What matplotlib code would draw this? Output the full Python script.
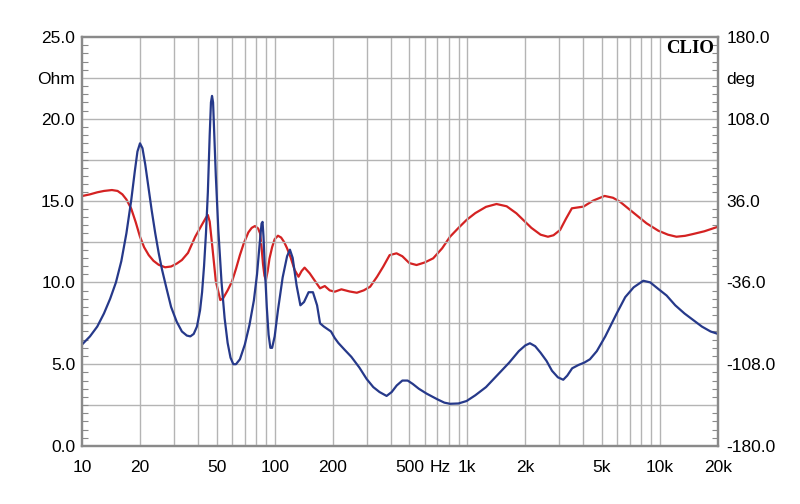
import numpy as np
import matplotlib
matplotlib.use("Agg")
import matplotlib.pyplot as plt
import matplotlib.transforms as mtransforms

# Impedance magnitude (Ohm) vs frequency (Hz)
imp_freq = [10, 11, 12, 13, 14, 15, 16, 17, 18, 18.8, 19.4, 20, 20.6, 21.3, 22, 23, 24, 25, 26,
            27.5, 29, 31, 33, 35, 36.5, 38, 39.5, 41, 42, 43, 44, 45, 46, 46.7, 47.3, 47.9,
            48.6, 49.5, 51, 53, 55, 57, 59, 61, 63, 66, 70, 74, 78, 81, 83.5, 85.5, 86.5, 87.5,
            89, 91, 93, 95, 97, 100, 104, 110, 116, 120, 124, 130, 136, 142, 150, 158, 166,
            172, 180, 196, 205, 214, 230, 250, 275, 300, 325, 350, 381, 405, 430, 460, 490,
            520, 560, 615, 700, 760, 813, 900, 991, 1100, 1250, 1476, 1650, 1850, 2000, 2113,
            2250, 2400, 2577, 2750, 2950, 3146, 3300, 3500, 3770, 4050, 4327, 4700, 5200, 5959,
            6600, 7300, 8185, 8900, 9800, 10817, 12000, 13400, 14860, 16500, 18300, 20000]
imp_ohm = [6.2, 6.7, 7.3, 8.1, 9.0, 10.0, 11.3, 13.0, 15.0, 16.8, 18.0, 18.5, 18.2, 17.2, 16.0,
           14.4, 13.0, 11.8, 10.8, 9.6, 8.5, 7.6, 7.0, 6.75, 6.7, 6.85, 7.3, 8.3, 9.4, 11.0,
           13.0, 15.5, 19.0, 21.0, 21.4, 21.0, 19.0, 16.5, 13.2, 10.0, 7.8, 6.3, 5.4, 5.0, 5.0,
           5.3, 6.2, 7.4, 8.9, 10.5, 12.3, 13.6, 13.7, 12.8, 10.8, 8.5, 6.8, 6.0, 6.0, 6.7,
           8.3, 10.3, 11.6, 12.0, 11.5, 9.8, 8.6, 8.8, 9.4, 9.4, 8.6, 7.5, 7.3, 7.0, 6.6, 6.3,
           5.9, 5.45, 4.8, 4.1, 3.6, 3.3, 3.06, 3.3, 3.7, 4.0, 4.0, 3.8, 3.5, 3.2, 2.85, 2.65,
           2.58, 2.6, 2.75, 3.1, 3.6, 4.5, 5.1, 5.8, 6.15, 6.28, 6.1, 5.7, 5.2, 4.6, 4.2, 4.05,
           4.3, 4.75, 4.95, 5.1, 5.3, 5.8, 6.7, 8.1, 9.1, 9.7, 10.1, 10.0, 9.6, 9.2, 8.6, 8.1,
           7.7, 7.3, 7.0, 6.85]

# Impedance phase (deg) vs frequency (Hz)
ph_freq = [10, 11, 12, 13, 14.3, 15.3, 16.2, 17, 18, 19, 20, 21, 22.2, 23.5, 25, 27, 29, 31, 33,
           35.5, 38.7, 42, 44, 45, 46, 47.5, 49.5, 52.2, 54, 57, 60, 63, 66, 69, 73, 76, 79,
           82, 84, 85.5, 87, 88.5, 90, 92, 94, 97, 100, 104, 108, 112, 116, 121, 127, 133,
           138, 143, 152, 165, 172, 182, 193, 205, 222, 245, 267, 290, 313, 340, 366, 395,
           429, 460, 500, 545, 600, 665, 740, 813, 900, 991, 1100, 1250, 1417, 1600, 1798,
           1950, 2150, 2400, 2620, 2800, 3029, 3250, 3487, 3750, 4005, 4500, 5158, 5700, 6188,
           7200, 8515, 9800, 11000, 12170, 13500, 14860, 17000, 20000]
ph_deg = [40, 41.5, 43.3, 44.5, 45.3, 44.5, 41.5, 37, 29, 17, 4.2, -5, -12, -17, -20.5, -22.7,
          -22, -19.5, -16.3, -10, 4.2, 15, 21, 23.3, 17.5, -5, -35, -51.5, -50, -43, -35.4,
          -24, -12, -2, 8, 12, 13.6, 11.5, 7.2, -5, -20, -30, -33.9, -26, -15, -5, 2, 5.1,
          3.5, -0.5, -6, -14, -25.1, -31, -26, -23.0, -28, -36.8, -41.2, -39.2, -43, -44.2,
          -42.1, -44, -45.1, -43, -39.8, -31, -22.1, -12, -10.4, -13, -19, -20.7, -18.5,
          -14.8, -6, 4.2, 12, 19, 25, 30.5, 33, 31, 24.8, 19, 12, 6, 4.2, 5.5, 10.1, 20,
          29.2, 30, 30.7, 36, 40.1, 38.5, 35.1, 26, 16, 9.5, 6, 4.2, 5, 6.6, 9, 13]

x_major = [10, 20, 50, 100, 200, 500, 1000, 2000, 5000, 10000, 20000]
x_labels = ["10", "20", "50", "100", "200", "500", "1k", "2k", "5k", "10k", "20k"]
x_grid = [20, 30, 40, 50, 60, 70, 80, 90, 100, 200, 300, 400, 500, 600, 700, 800, 900,
          1000, 2000, 3000, 4000, 5000, 6000, 7000, 8000, 9000, 10000]

ohm_ticks = [0, 5, 10, 15, 20, 22.5, 25]
ohm_labels = ["0.0", "5.0", "10.0", "15.0", "20.0", "Ohm", "25.0"]
deg_ticks = [-180, -108, -36, 36, 108, 144, 180]
deg_labels = ["-180.0", "-108.0", "-36.0", "36.0", "108.0", "deg", "180.0"]

plt.rcParams['font.family'] = ['Liberation Sans', 'DejaVu Sans']

blue = '#26398a'
red = '#d42222'
gridc = '#b4b4b4'
framec = '#8a8a8a'

fig = plt.figure(figsize=(8, 5.04), dpi=100)
ax = fig.add_axes([82/800, 58/504, 636/800, 409/504])
ax2 = ax.twinx()

ax.set_xscale('log')
ax.set_xlim(10, 20000)
ax.set_ylim(0, 25)
ax2.set_ylim(-180, 180)

# grid
for f in x_grid:
    ax.axvline(f, color=gridc, lw=1, zorder=0)
for z in np.arange(2.5, 25, 2.5):
    ax.axhline(z, color=gridc, lw=1, zorder=0)

# curves (phase under impedance)
ax.set_zorder(ax2.get_zorder() + 1)
ax.patch.set_visible(False)
ax2.plot(ph_freq, ph_deg, color=red, lw=1.6)
ax.plot(imp_freq, imp_ohm, color=blue, lw=1.6)

# ticks
ax.set_xticks(x_major)
ax.set_xticklabels(x_labels)
ax.xaxis.set_minor_locator(matplotlib.ticker.NullLocator())
ax.tick_params(axis='x', length=0, pad=10, labelsize=12.5)

ax.set_yticks(ohm_ticks)
ax.set_yticklabels(ohm_labels)
ax.set_yticks(np.arange(0, 25.01, 0.5), minor=True)
ax.tick_params(axis='y', which='major', length=0, pad=5, labelsize=12.5)
ax.tick_params(axis='y', which='minor', direction='in', length=4, color=framec, width=0.8)

ax2.set_yticks(deg_ticks)
ax2.set_yticklabels(deg_labels)
ax2.set_yticks(np.arange(-180, 180.01, 7.2), minor=True)
ax2.tick_params(axis='y', which='major', length=0, pad=6, labelsize=12.5)
ax2.tick_params(axis='y', which='minor', direction='in', length=4, color=framec, width=0.8)

for a in (ax, ax2):
    for s in a.spines.values():
        s.set_color(framec)
        s.set_linewidth(1.6)

# "Hz" unit sits on the tick label row between 500 and 1k
trans = mtransforms.blended_transform_factory(ax.transData, ax.transAxes)
trans = trans + mtransforms.ScaledTranslation(0, -10/72, fig.dpi_scale_trans)
ax.text(720, 0.0, "Hz", transform=trans, ha='center', va='top', fontsize=12.5)

ax.text(0.994, 0.972, "CLIO", transform=ax.transAxes, ha='right', va='center',
        fontsize=13.5, fontweight='bold', family=['Liberation Serif', 'DejaVu Serif'])

fig.savefig('out.png', dpi=100)
